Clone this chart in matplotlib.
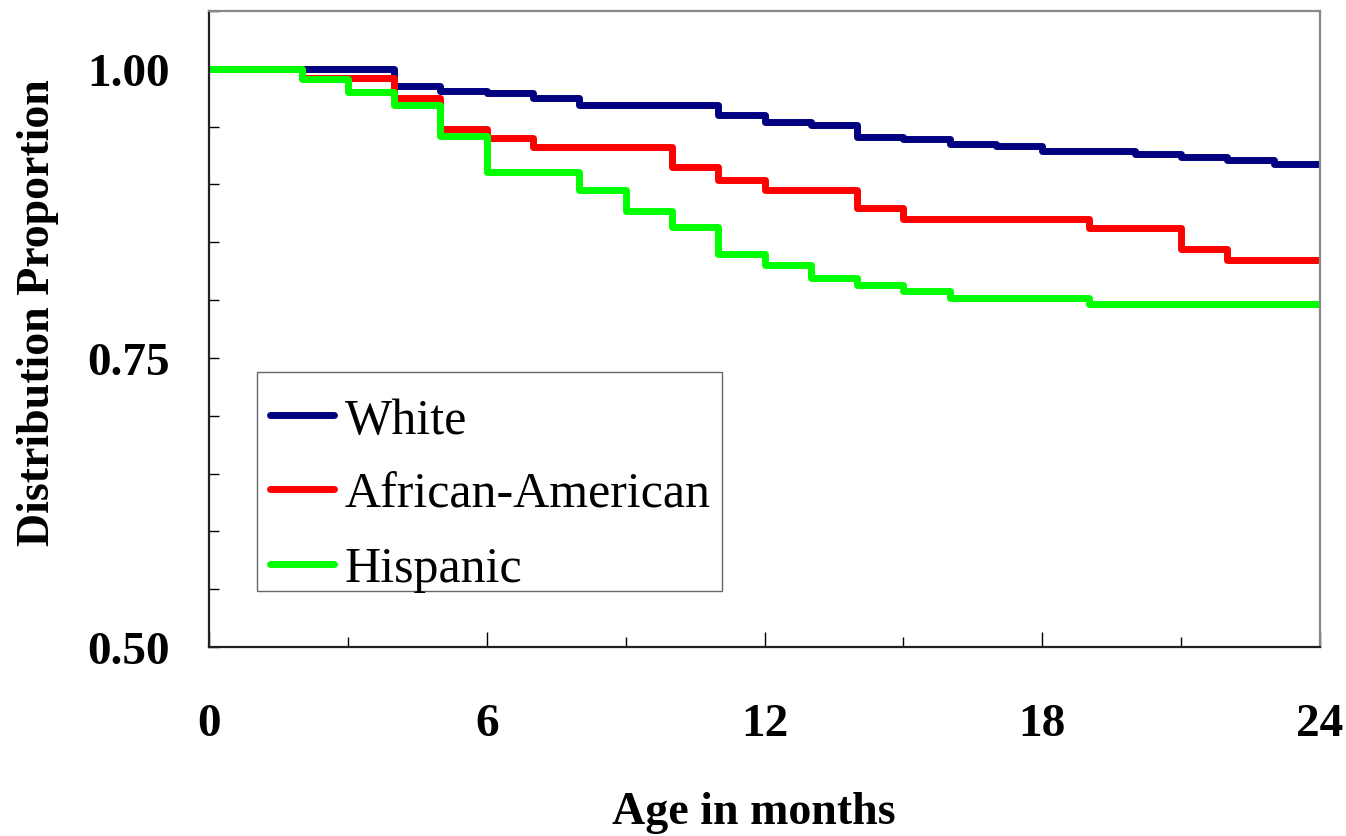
import matplotlib
matplotlib.use('Agg')

import numpy as np
import matplotlib.pyplot as plt
from matplotlib.ticker import MultipleLocator
from matplotlib.patches import Rectangle

# ---- data (proportion at each month, step after) ----
months = list(range(0, 25))
white = [1.000, 1.000, 1.000, 1.000, 0.985, 0.981, 0.979, 0.975, 0.969, 0.969,
         0.969, 0.960, 0.954, 0.951, 0.941, 0.939, 0.935, 0.933, 0.929, 0.929,
         0.926, 0.924, 0.921, 0.918, 0.918]
african_american = [1.000, 1.000, 0.992, 0.992, 0.975, 0.948, 0.940, 0.932, 0.932, 0.932,
                    0.915, 0.904, 0.895, 0.895, 0.880, 0.870, 0.870, 0.870, 0.870, 0.862,
                    0.862, 0.844, 0.835, 0.835, 0.835]
hispanic = [1.000, 1.000, 0.991, 0.980, 0.969, 0.942, 0.911, 0.911, 0.895, 0.877,
            0.863, 0.840, 0.830, 0.819, 0.813, 0.808, 0.802, 0.802, 0.802, 0.797,
            0.797, 0.797, 0.797, 0.797, 0.797]
labels = ['White', 'African-American', 'Hispanic']
colors = ['#000080', '#ff0000', '#00ff00']
xticks = [0, 6, 12, 18, 24]
yticks = [0.50, 0.75, 1.00]

plt.rcParams['font.family'] = ['Liberation Serif', 'DejaVu Serif']

fig = plt.figure(figsize=(13.46, 8.37), dpi=100)
ax = fig.add_axes([209/1346, 1 - 648/837, 1111/1346, 636/837])

for vals, lab, col in zip([white, african_american, hispanic], labels, colors):
    ax.step(months, vals, where='post', color=col, lw=5, label=lab,
            solid_joinstyle='round', solid_capstyle='round')

ax.set_xlim(0, 24)
ax.set_ylim(0.5, 1.05)
ax.set_xticks(xticks)
ax.set_yticks(yticks)
ax.set_yticklabels(['%.2f' % v for v in yticks])
ax.xaxis.set_minor_locator(MultipleLocator(3))
ax.yaxis.set_minor_locator(MultipleLocator(0.05))

ax.tick_params(axis='x', which='major', direction='in', length=11, width=1,
               labelsize=34, pad=40)
ax.tick_params(axis='x', which='minor', direction='in', length=7, width=1)
ax.tick_params(axis='y', which='both', direction='in', length=7, width=1,
               labelsize=34, pad=28)
for lab in ax.get_xticklabels() + ax.get_yticklabels():
    lab.set_fontweight('bold')

for side in ['left', 'bottom']:
    ax.spines[side].set_color('#202020')
    ax.spines[side].set_linewidth(1.6)
for side in ['top', 'right']:
    ax.spines[side].set_color('#888888')
    ax.spines[side].set_linewidth(1.6)

ax.set_xlabel('Age in months', fontsize=33, fontweight='bold', va='baseline')
ax.xaxis.set_label_coords(0.4905, -0.2767)
ax.set_ylabel('Distribution Proportion', fontsize=33, fontweight='bold', va='center')
ax.yaxis.set_label_coords(-0.154, 0.527)

# legend entries without frame, box drawn separately so text sits lower in it
leg = ax.legend(loc='upper left', bbox_to_anchor=(0.0432, 0.4135), borderaxespad=0,
                fontsize=36, frameon=False, handlelength=1.28,
                handletextpad=0.22, labelspacing=0.555, borderpad=0.26)
ax.add_patch(Rectangle((0.0432, 0.0881), 0.4185, 0.3443, transform=ax.transAxes,
                       fill=True, facecolor='white', edgecolor='#666666', lw=1.0,
                       zorder=4.9))
leg.set_zorder(5)

fig.savefig('out.png', dpi=100)
